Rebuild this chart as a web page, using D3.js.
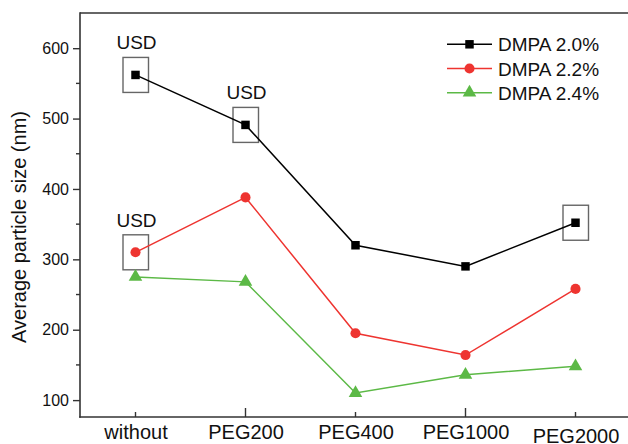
<!DOCTYPE html>
<html><head><meta charset="utf-8">
<script src="https://cdn.jsdelivr.net/npm/d3@7"></script>
<style>
body{margin:0;background:#fff;}
text{font-family:"Liberation Sans",Arial,sans-serif;fill:#111;}
</style></head>
<body><svg id="c" width="628" height="444"></svg>
<script>
const categories = ["without","PEG200","PEG400","PEG1000","PEG2000"];
const seriesNames = ["DMPA 2.0%","DMPA 2.2%","DMPA 2.4%"];
const dmpa20 = [562, 491, 320, 290, 352];
const dmpa22 = [310, 388, 195, 164, 258];
const dmpa24 = [275, 268, 110, 136, 148];
const yTicks = [100, 200, 300, 400, 500, 600];
const yMinor = [150, 250, 350, 450, 550];
const usdLabels = [{s:0,i:0},{s:0,i:1},{s:1,i:0},{s:0,i:4,noText:true}];

const colors = ["#000000","#ee3430","#5cb946"];
const series = [dmpa20, dmpa22, dmpa24];

const svg = d3.select("#c");
const x = d3.scalePoint().domain(categories).range([80.5, 630.5]).padding(0.5);
const y = d3.scaleLinear().domain([76, 650]).range([417, 13]);

// frame
svg.append("line").attr("x1",80).attr("x2",640).attr("y1",13).attr("y2",13).attr("stroke","#333").attr("stroke-width",1.6);
// y axis
const ya = svg.append("g").attr("transform","translate(80,0)")
  .call(d3.axisLeft(y).tickValues(yTicks).tickSize(7).tickPadding(4));
ya.select(".domain").remove();
ya.selectAll(".tick line").attr("stroke","#333").attr("stroke-width",1.4);
ya.selectAll(".tick text").attr("font-size",16).attr("fill","#111");
svg.append("g").selectAll("line").data(yMinor).join("line")
  .attr("x1",76).attr("x2",80).attr("y1",d=>y(d)).attr("y2",d=>y(d)).attr("stroke","#333").attr("stroke-width",1.4);
svg.append("line").attr("x1",80).attr("x2",80).attr("y1",12.2).attr("y2",417.8).attr("stroke","#333").attr("stroke-width",1.6);

// x axis
const xa = svg.append("g").attr("transform","translate(0,417)")
  .call(d3.axisBottom(x).tickSize(0).tickPadding(10));
xa.select(".domain").remove();
xa.selectAll(".tick text").attr("font-size",20).attr("fill","#111")
  .attr("dy", (d,i)=> i===4 ? "0.82em" : "0.62em");
svg.append("g").selectAll("line").data(categories).join("line")
  .attr("x1",d=>x(d)).attr("x2",d=>x(d)).attr("y1",417).attr("y2",(d,i)=> i%2 ? 408 : 412)
  .attr("stroke","#333").attr("stroke-width",1.4);
svg.append("line").attr("x1",79.2).attr("x2",640).attr("y1",417).attr("y2",417).attr("stroke","#333").attr("stroke-width",1.6);

// y title
svg.append("text").attr("transform","translate(26,227) rotate(-90)").attr("text-anchor","middle")
  .attr("font-size",20).text("Average particle size (nm)");

// USD boxes
usdLabels.forEach(u=>{
  const cx = x(categories[u.i]), cy = y(series[u.s][u.i]);
  svg.append("rect").attr("x",cx-12.5).attr("y",cy-17.5).attr("width",25.5).attr("height",35)
    .attr("fill","none").attr("stroke","#666").attr("stroke-width",1.4);
  if(!u.noText) svg.append("text").attr("x",cx+1).attr("y",cy-25.5).attr("text-anchor","middle")
    .attr("font-size",19).text("USD");
});

const symbols = [d3.symbolSquare, d3.symbolCircle, d3.symbolTriangle];
const sizes = [72, 80, 80];
const line = d3.line().x((d,i)=>x(categories[i])).y(d=>y(d));
series.forEach((vals,k)=>{
  svg.append("path").datum(vals).attr("d",line).attr("fill","none")
    .attr("stroke",colors[k]).attr("stroke-width",1.5);
  svg.append("g").selectAll("path").data(vals).join("path")
    .attr("transform",(d,i)=>`translate(${x(categories[i])},${y(d)})`)
    .attr("d",d3.symbol().type(symbols[k]).size(sizes[k]))
    .attr("fill",colors[k]);
});

// legend
const lg = svg.append("g");
seriesNames.forEach((n,k)=>{
  const yy = 44.3 + k*24.2;
  lg.append("line").attr("x1",447).attr("x2",492).attr("y1",yy).attr("y2",yy).attr("stroke",colors[k]).attr("stroke-width",1.5);
  lg.append("path").attr("transform",`translate(469.5,${yy})`).attr("d",d3.symbol().type(symbols[k]).size(sizes[k])).attr("fill",colors[k]);
  lg.append("text").attr("x",498).attr("y",yy+7).attr("font-size",19).text(n);
});
</script></body></html>
